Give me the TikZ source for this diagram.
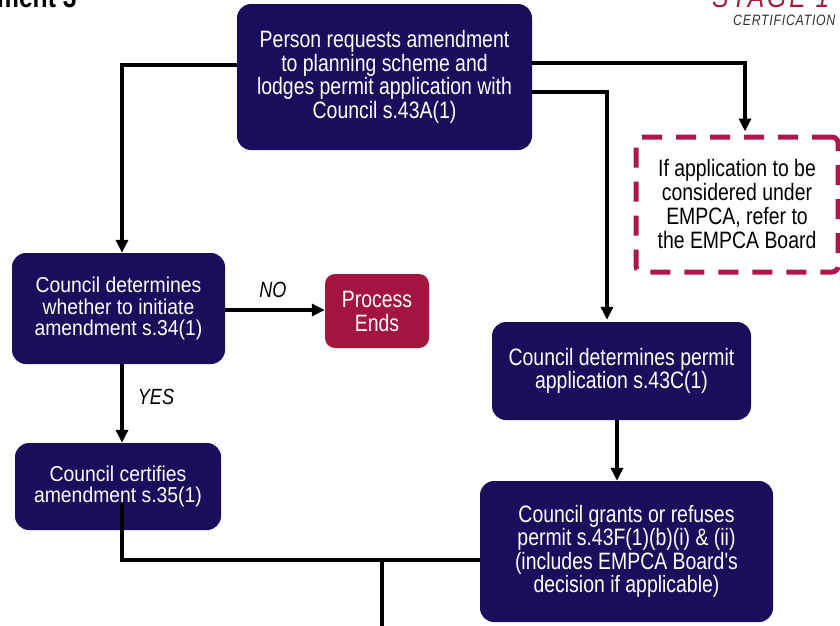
\documentclass[tikz,border=0pt]{standalone}
\usepackage{fontspec}
\setmainfont{Liberation Sans}[FakeStretch=0.82]
\newfontfamily\wideface{Liberation Sans}[FakeStretch=0.9]
\usetikzlibrary{arrows.meta}
\definecolor{navy}{RGB}{28,12,92}
\definecolor{crim}{RGB}{163,20,62}
\definecolor{dashred}{RGB}{176,22,72}
\definecolor{stagered}{RGB}{160,30,60}
\definecolor{certgray}{RGB}{50,50,50}
\tikzset{
  box/.style={fill=navy, rounded corners=14pt, text=white, align=center,
    font=\fontsize{23.7}{23.5}\selectfont, inner sep=0pt},
  sbox/.style={box, font=\wideface\fontsize{21.5}{21.5}\selectfont},
  endbox/.style={fill=crim, rounded corners=10pt, text=white, align=center,
    font=\fontsize{23.7}{24}\selectfont, inner sep=0pt},
  notebox/.style={draw=dashred, line width=5pt, dash pattern=on 20pt off 14pt,
    rounded corners=6pt, fill=white, text=black, align=center,
    font=\fontsize{23.7}{24}\selectfont, inner sep=0pt},
  arr/.style={line width=3.5pt, -{Triangle[length=13pt,width=12pt]}},
  conn/.style={line width=3.5pt},
  lab/.style={font=\itshape\fontsize{22}{22}\selectfont, inner sep=0pt}
}
\begin{document}
\begin{tikzpicture}[x=1pt,y=-1pt]
\useasboundingbox (0,0) rectangle (840,625);
\clip (0,0) rectangle (840,625);

\node[font=\bfseries\fontsize{30}{30}\selectfont, anchor=base west, inner sep=0pt] (ttl) at (-3,7) {ment 3};
\node[font=\itshape\fontsize{30}{30}\selectfont\addfontfeature{LetterSpace=10}, text=stagered, anchor=base west, inner sep=0pt] (stage) at (712,7) {STAGE 1};
\node[font=\itshape\fontsize{15}{15}\selectfont\addfontfeature{LetterSpace=5}, text=certgray, anchor=base west, inner sep=0pt] (cert1) at (733,25) {CERTIFICATION};

\node[box, minimum width=295pt, minimum height=146pt] (top) at (384.5,77)
  {Person requests amendment\\to planning scheme and\\lodges permit application with\\Council s.43A(1)};
\node[sbox, minimum width=213pt, minimum height=111pt] (det) at (118.5,308.5)
  {Council determines\\whether to initiate\\amendment s.34(1)};
\node[endbox, minimum width=104pt, minimum height=74pt] (proc) at (377,311)
  {Process\\Ends};
\node[sbox, minimum width=206pt, minimum height=87pt] (cert) at (118,486.5)
  {Council certifies\\amendment s.35(1)};
\node[notebox, minimum width=202pt, minimum height=135pt] (note) at (737,204.5)
  {If application to be\\considered under\\EMPCA, refer to\\the EMPCA Board};
\node[box, minimum width=259pt, minimum height=98pt] (permit) at (621.5,371)
  {Council determines permit\\application s.43C(1)};
\node[box, minimum width=293pt, minimum height=141pt] (grants) at (626.5,551.5)
  {Council grants or refuses\\permit s.43F(1)(b)(i) \& (ii)\\(includes EMPCA Board{\addfontfeature{Ligatures=TeXOff}'}s\\decision if applicable)};

\draw[arr] ([yshift=12pt]top.west) -| ([xshift=3.5pt]det.north);
\draw[arr, shorten >=3pt] ([yshift=14pt]top.east) -| ([xshift=8pt]note.north);
\draw[arr, shorten >=2pt] ([yshift=-15pt]top.east) -| ([xshift=-14.5pt]permit.north);
\draw[arr] ([yshift=-1.5pt]det.east) -- ([yshift=-1.5pt]det.east -| proc.west);
\node[lab] (no) at (273,290) {NO};
\draw[arr] ([xshift=3.5pt]det.south) -- ([xshift=3.5pt]det.south |- cert.north);
\node[lab] (yes) at (156,397) {YES};
\draw[arr] ([xshift=-4.5pt]permit.south) -- ([xshift=-4.5pt]permit.south |- grants.north);

\coordinate (cs) at (122,503);
\coordinate (j) at (382,560);
\coordinate (bot) at (382,630);
\draw[conn] (cs) |- (j -| grants.west);
\draw[conn] (j) -- (bot);
\end{tikzpicture}
\end{document}
